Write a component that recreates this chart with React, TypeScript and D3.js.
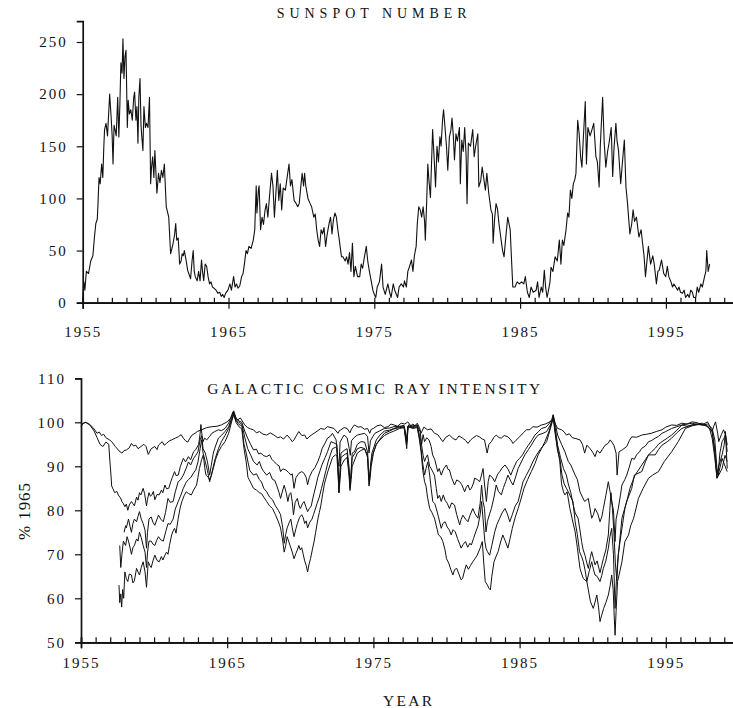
import { useEffect, useRef } from 'react';
import * as d3 from 'd3';

type Pt = [number, number];

// monthly-ish sunspot number: [year, value]
const sunspot: Pt[] = [
  [1955.0,3],[1955.08,20],[1955.15,12],[1955.25,30],[1955.4,28],[1955.55,40],[1955.7,45],[1955.8,62],[1955.9,76],[1956.0,80],
  [1956.05,95],[1956.12,120],[1956.2,114],[1956.3,133],[1956.38,120],[1956.45,150],[1956.5,166],[1956.6,172],[1956.7,160],[1956.85,200],
  [1956.95,178],[1957.02,160],[1957.08,133],[1957.15,170],[1957.22,166],[1957.3,160],[1957.4,197],[1957.48,159],[1957.55,190],[1957.62,230],
  [1957.7,220],[1957.76,253],[1957.83,215],[1957.9,236],[1957.97,242],[1958.06,168],[1958.12,194],[1958.2,181],[1958.3,185],[1958.4,175],
  [1958.5,197],[1958.56,202],[1958.65,175],[1958.72,188],[1958.79,153],[1958.85,197],[1958.93,215],[1959.0,170],[1959.05,160],[1959.13,146],
  [1959.2,188],[1959.3,168],[1959.38,172],[1959.48,168],[1959.58,197],[1959.66,114],[1959.72,130],[1959.8,140],[1959.88,120],[1959.95,146],
  [1960.09,105],[1960.2,124],[1960.3,115],[1960.4,127],[1960.5,120],[1960.6,133],[1960.73,92],[1960.8,88],[1960.9,82],[1961.03,47],
  [1961.12,52],[1961.2,57],[1961.3,65],[1961.38,76],[1961.45,60],[1961.55,62],[1961.65,37],[1961.75,40],[1961.82,47],[1961.9,45],
  [1961.97,50],[1962.1,40],[1962.2,31],[1962.3,27],[1962.4,23],[1962.5,40],[1962.58,50],[1962.65,30],[1962.72,25],[1962.85,21],
  [1962.95,30],[1963.05,21],[1963.15,41],[1963.22,30],[1963.3,21],[1963.4,37],[1963.5,35],[1963.6,25],[1963.7,18],[1963.8,20],
  [1963.9,15],[1964.0,14],[1964.15,12],[1964.27,9],[1964.4,10],[1964.5,6],[1964.6,8],[1964.7,5],[1964.8,9],[1964.96,12],
  [1965.1,18],[1965.2,12],[1965.35,25],[1965.45,15],[1965.55,18],[1965.65,14],[1965.77,16],[1965.9,25],[1966.0,28],[1966.1,38],
  [1966.2,50],[1966.3,47],[1966.4,54],[1966.55,52],[1966.7,60],[1966.8,70],[1966.9,112],[1966.95,86],[1967.05,108],[1967.1,112],
  [1967.2,70],[1967.3,82],[1967.4,75],[1967.5,88],[1967.6,95],[1967.7,82],[1967.8,100],[1967.95,124],[1968.05,112],[1968.15,82],
  [1968.25,105],[1968.35,127],[1968.45,98],[1968.55,114],[1968.65,89],[1968.75,110],[1968.9,108],[1969.0,118],[1969.15,133],[1969.25,112],
  [1969.35,118],[1969.5,98],[1969.6,96],[1969.75,92],[1969.85,95],[1969.95,110],[1970.05,124],[1970.15,112],[1970.22,124],[1970.3,112],
  [1970.45,100],[1970.6,95],[1970.7,92],[1970.85,82],[1970.95,85],[1971.05,70],[1971.15,60],[1971.25,54],[1971.35,70],[1971.45,66],
  [1971.55,72],[1971.66,54],[1971.75,64],[1971.9,76],[1972.0,82],[1972.1,66],[1972.2,80],[1972.3,86],[1972.4,82],[1972.5,70],
  [1972.6,60],[1972.75,44],[1972.85,44],[1973.0,40],[1973.1,44],[1973.2,37],[1973.3,48],[1973.4,30],[1973.5,57],[1973.6,25],
  [1973.7,35],[1973.85,25],[1974.0,25],[1974.1,37],[1974.2,33],[1974.3,42],[1974.45,54],[1974.55,40],[1974.65,31],[1974.8,20],
  [1974.9,12],[1975.0,8],[1975.1,5],[1975.2,15],[1975.35,20],[1975.5,37],[1975.6,15],[1975.75,8],[1975.93,18],[1976.05,10],
  [1976.15,5],[1976.3,18],[1976.4,12],[1976.6,5],[1976.7,15],[1976.85,18],[1977.0,15],[1977.07,21],[1977.2,15],[1977.3,30],
  [1977.4,34],[1977.55,41],[1977.65,30],[1977.75,45],[1977.87,54],[1977.95,76],[1978.05,92],[1978.15,89],[1978.25,82],[1978.35,92],
  [1978.45,78],[1978.5,60],[1978.6,100],[1978.67,133],[1978.75,117],[1978.85,101],[1979.0,166],[1979.1,140],[1979.2,111],[1979.3,150],
  [1979.4,135],[1979.5,159],[1979.58,150],[1979.68,175],[1979.75,185],[1979.85,168],[1979.95,150],[1980.04,127],[1980.15,159],[1980.25,165],
  [1980.33,177],[1980.42,160],[1980.5,137],[1980.6,162],[1980.7,155],[1980.84,168],[1980.9,114],[1981.0,156],[1981.1,145],[1981.2,168],
  [1981.3,140],[1981.36,95],[1981.45,153],[1981.6,150],[1981.75,166],[1981.85,140],[1981.95,150],[1982.1,162],[1982.17,111],[1982.3,117],
  [1982.4,130],[1982.5,120],[1982.62,108],[1982.72,124],[1982.85,105],[1983.0,89],[1983.1,85],[1983.15,57],[1983.25,80],[1983.35,95],
  [1983.45,90],[1983.55,76],[1983.7,60],[1983.8,50],[1983.9,44],[1984.0,60],[1984.15,82],[1984.25,75],[1984.32,70],[1984.4,45],
  [1984.5,15],[1984.65,15],[1984.8,20],[1984.95,18],[1985.1,20],[1985.25,18],[1985.36,25],[1985.5,10],[1985.63,5],[1985.75,15],
  [1985.9,10],[1986.1,12],[1986.2,20],[1986.3,5],[1986.45,15],[1986.55,10],[1986.66,31],[1986.75,15],[1986.85,5],[1986.95,12],
  [1987.05,20],[1987.12,34],[1987.25,30],[1987.4,44],[1987.55,40],[1987.69,60],[1987.8,37],[1987.9,60],[1988.0,55],[1988.15,70],
  [1988.26,86],[1988.35,82],[1988.45,108],[1988.55,100],[1988.65,114],[1988.75,118],[1988.83,124],[1988.95,175],[1989.05,162],[1989.15,140],
  [1989.24,130],[1989.33,156],[1989.47,193],[1989.55,133],[1989.65,168],[1989.8,160],[1989.93,166],[1990.05,172],[1990.2,140],[1990.3,135],
  [1990.42,111],[1990.5,150],[1990.66,197],[1990.77,153],[1990.88,130],[1991.0,145],[1991.1,153],[1991.25,168],[1991.35,121],[1991.45,150],
  [1991.57,172],[1991.65,155],[1991.75,146],[1991.9,114],[1992.05,140],[1992.15,156],[1992.26,111],[1992.37,95],[1992.45,80],[1992.53,66],
  [1992.65,75],[1992.75,89],[1992.85,78],[1992.98,82],[1993.15,63],[1993.3,70],[1993.4,57],[1993.5,45],[1993.6,25],[1993.7,40],
  [1993.8,54],[1993.95,37],[1994.1,45],[1994.2,37],[1994.35,18],[1994.45,30],[1994.54,31],[1994.7,41],[1994.85,28],[1994.99,25],
  [1995.1,35],[1995.2,25],[1995.35,20],[1995.45,15],[1995.55,18],[1995.68,15],[1995.8,12],[1995.9,15],[1996.0,10],[1996.14,9],
  [1996.25,12],[1996.35,5],[1996.5,8],[1996.6,5],[1996.7,12],[1996.82,10],[1996.9,5],[1997.05,5],[1997.15,15],[1997.25,10],
  [1997.4,18],[1997.5,15],[1997.65,25],[1997.74,30],[1997.8,50],[1997.9,30],[1998.0,37],
];

// galactic cosmic ray intensity (% of 1965), five monitors
const crA: Pt[] = [
  [1955.0,99],[1955.15,99.8],[1955.35,100],[1955.6,99.5],[1955.85,98.7],[1956.1,97.5],[1956.25,97.8],[1956.4,97],[1956.55,97.3],[1956.7,96.5],
  [1956.95,96],[1957.1,95.6],[1957.35,94.5],[1957.6,93.5],[1957.8,93],[1957.95,93.6],[1958.1,93.7],[1958.3,94.2],[1958.45,95.2],[1958.6,94.6],
  [1958.75,94.8],[1958.9,94],[1959.1,94.5],[1959.3,95],[1959.45,94.5],[1959.6,92.7],[1959.8,94],[1960.05,94.5],[1960.2,93.8],[1960.3,94.8],
  [1960.55,95.6],[1960.7,94.8],[1960.85,95.2],[1961.05,95.8],[1961.2,96],[1961.45,96.4],[1961.65,96.7],[1961.85,97.2],[1962.0,96.4],[1962.15,95.8],
  [1962.3,95.5],[1962.45,96.4],[1962.6,97.1],[1962.8,97.5],[1962.95,97.9],[1963.25,98.3],[1963.6,98.8],[1963.95,99],[1964.3,99.1],[1964.6,99.4],
  [1965.0,100.1],[1965.25,101],[1965.4,102.4],[1965.5,101.6],[1965.7,100.5],[1965.9,101],[1966.2,99.4],[1966.4,98.8],[1966.6,98.5],[1966.8,98.3],
  [1967.0,97.6],[1967.2,97.9],[1967.45,97.3],[1967.7,97.1],[1967.95,97.6],[1968.2,97.1],[1968.45,96.5],[1968.65,96.7],[1968.85,96.2],[1969.1,97.1],
  [1969.3,96.3],[1969.45,95.6],[1969.57,96],[1969.7,96.8],[1969.9,97.9],[1970.1,97],[1970.3,97.1],[1970.45,96.2],[1970.6,96.7],[1970.8,97.2],
  [1970.94,97.5],[1971.2,98.1],[1971.4,98.6],[1971.65,98.4],[1971.86,99],[1972.1,98.8],[1972.3,98.6],[1972.58,97.5],[1972.65,98],[1972.78,98.3],
  [1973.0,98.8],[1973.2,98.6],[1973.4,97.6],[1973.5,98.5],[1973.7,99.4],[1973.95,98.9],[1974.15,99],[1974.4,98.4],[1974.6,98.6],[1974.75,97.5],
  [1974.85,98.4],[1975.0,98.6],[1975.25,99.2],[1975.5,99.4],[1975.75,98.8],[1976.0,99],[1976.2,99.6],[1976.4,99.4],[1976.65,99.1],[1976.9,99.8],
  [1977.15,99.6],[1977.35,100.1],[1977.55,99.2],[1977.7,99.6],[1977.85,99.2],[1978.0,99.8],[1978.15,98.8],[1978.26,97.5],[1978.45,98.9],[1978.7,98.3],
  [1978.95,98.5],[1979.18,97.5],[1979.4,97.2],[1979.55,96.5],[1979.75,95.6],[1979.95,96.6],[1980.2,97.1],[1980.45,96.3],[1980.65,96],[1980.85,96.9],
  [1981.1,96.4],[1981.3,95.9],[1981.47,95.2],[1981.65,96],[1981.8,96.4],[1982.05,97],[1982.25,96.7],[1982.45,96.2],[1982.6,96],[1982.78,93],
  [1982.9,95],[1983.07,95.6],[1983.25,96.6],[1983.4,97.1],[1983.6,96.5],[1983.75,96.4],[1983.95,97],[1984.2,96.7],[1984.4,96],[1984.55,95.2],
  [1984.75,95.9],[1985.0,96.7],[1985.25,97.6],[1985.47,98.3],[1985.7,98.3],[1985.9,99],[1986.2,98.9],[1986.5,99.4],[1986.75,99.6],[1987.0,100],
  [1987.2,100.4],[1987.3,100.9],[1987.45,99.6],[1987.6,98.6],[1987.87,98.3],[1988.05,97.8],[1988.2,97.1],[1988.4,97.4],[1988.6,96.5],[1988.85,96.3],
  [1989.13,96],[1989.3,95],[1989.45,93],[1989.6,94.8],[1989.8,94.1],[1990.0,93.2],[1990.16,92.2],[1990.3,93.6],[1990.5,93],[1990.65,93.8],
  [1990.85,94.8],[1991.05,95.2],[1991.2,96],[1991.45,94.8],[1991.6,93],[1991.67,88],[1991.8,93.3],[1992.05,93.8],[1992.33,94.5],[1992.5,95.8],
  [1992.67,96.7],[1993.0,96.6],[1993.36,97.1],[1993.7,97.3],[1994.0,97.5],[1994.35,97.9],[1994.74,98.3],[1995.0,98.9],[1995.4,99.4],[1995.75,99.3],
  [1996.1,99.8],[1996.45,99.6],[1996.8,100.1],[1997.15,99.9],[1997.5,99.4],[1997.7,99.8],[1997.85,100.1],[1998.0,99.2],[1998.17,97.9],[1998.3,99.3],
  [1998.4,100.1],[1998.55,97.5],[1998.62,95.6],[1998.8,97.2],[1998.95,98.3],[1999.1,97],[1999.2,94.8],
];

const crB: Pt[] = [
  [1955.0,99.5],[1955.3,100],[1955.6,99.4],[1955.9,98],[1956.1,96.5],[1956.3,95],[1956.5,94.5],[1956.7,95.5],[1956.9,95],[1956.98,91],
  [1957.05,88],[1957.1,85.5],[1957.2,84.8],[1957.3,84],[1957.45,84.3],[1957.55,83.5],[1957.7,82.8],[1957.8,82],[1957.9,81.5],[1958.0,80.8],
  [1958.1,81.4],[1958.2,80],[1958.3,81.2],[1958.45,82],[1958.55,81.5],[1958.65,81],[1958.8,83],[1958.9,82.3],[1959.0,84],[1959.1,83.5],
  [1959.25,85],[1959.35,83.8],[1959.48,81],[1959.55,82.5],[1959.65,84],[1959.75,83.2],[1959.85,83.5],[1959.95,84.3],[1960.05,82.4],[1960.2,83.6],
  [1960.35,83.5],[1960.5,84.6],[1960.6,84],[1960.74,85.75],[1960.85,84.9],[1961.0,85],[1961.15,86.6],[1961.25,87.5],[1961.4,88.8],[1961.5,87.9],
  [1961.65,88],[1961.8,90],[1962.0,91.8],[1962.15,91],[1962.35,92.2],[1962.5,91.5],[1962.7,93.3],[1962.85,93.8],[1963.05,95],[1963.15,97.5],
  [1963.2,99.5],[1963.28,97],[1963.35,95.6],[1963.45,96.4],[1963.6,96],[1963.8,96.8],[1963.95,97.5],[1964.15,97.9],[1964.4,98.3],[1964.6,98.1],
  [1964.85,98.6],[1965.1,99.8],[1965.3,101.5],[1965.45,102.6],[1965.6,101],[1965.8,100.3],[1966.0,100],[1966.2,98],[1966.4,96.4],[1966.6,95],
  [1966.8,93.7],[1967.0,93.9],[1967.15,92.8],[1967.3,93],[1967.5,92.4],[1967.7,92.2],[1967.9,92.6],[1968.05,91.6],[1968.2,91.1],[1968.4,90.4],
  [1968.55,90.1],[1968.65,88.8],[1968.8,89.4],[1969.0,89.2],[1969.2,88.6],[1969.35,88],[1969.45,88.3],[1969.57,85],[1969.7,87.4],[1969.9,88.4],
  [1970.1,88.8],[1970.26,88.4],[1970.4,87.5],[1970.5,85.8],[1970.62,87.5],[1970.8,88.8],[1971.0,89.7],[1971.2,91.1],[1971.35,92.4],[1971.5,94.1],
  [1971.7,95.3],[1971.86,96.4],[1972.05,96.8],[1972.2,97.5],[1972.45,96],[1972.58,91],[1972.65,90],[1972.72,95.5],[1972.85,96.3],[1973.0,97.1],
  [1973.2,96.5],[1973.35,94],[1973.42,92.5],[1973.5,95.8],[1973.7,96.6],[1973.9,97.1],[1974.15,97.3],[1974.4,97.5],[1974.6,96.8],[1974.7,93],
  [1974.8,95.8],[1974.95,96.7],[1975.1,97.5],[1975.4,98],[1975.75,98.6],[1976.1,98.7],[1976.4,99],[1976.8,99.1],[1977.1,99.3],[1977.3,95.8],
  [1977.4,99.4],[1977.7,99.2],[1978.0,99.4],[1978.2,97.8],[1978.3,95],[1978.4,97.2],[1978.5,95.6],[1978.65,96.5],[1978.8,96],[1978.95,94.5],
  [1979.05,92.6],[1979.2,91.5],[1979.4,88.8],[1979.5,89.5],[1979.64,88],[1979.8,89.4],[1980.0,90.3],[1980.1,89.3],[1980.2,89.2],[1980.35,87.4],
  [1980.55,85.75],[1980.7,86.9],[1980.9,86.5],[1981.05,85.8],[1981.24,84.2],[1981.35,85.2],[1981.47,85.75],[1981.6,84.6],[1981.7,85],[1981.85,86.2],
  [1981.92,87.3],[1982.1,87],[1982.27,86.5],[1982.38,87.8],[1982.5,89.5],[1982.6,86],[1982.73,82],[1982.85,86.5],[1982.95,88],[1983.15,87.4],
  [1983.3,86.5],[1983.5,88.2],[1983.64,88.8],[1983.8,89.6],[1984.0,90.3],[1984.2,89.4],[1984.4,88],[1984.55,89.3],[1984.8,91.1],[1985.0,91.8],
  [1985.2,92.6],[1985.4,93.8],[1985.6,94.8],[1985.85,96],[1986.05,97.1],[1986.3,97.9],[1986.5,98.6],[1986.8,98.9],[1987.0,99.6],[1987.2,100.6],
  [1987.3,101.7],[1987.45,99.5],[1987.6,97.1],[1987.87,95],[1988.1,93.3],[1988.33,91.1],[1988.5,90.3],[1988.8,88],[1988.95,87],[1989.13,84.2],
  [1989.3,83],[1989.45,82],[1989.7,82.7],[1989.93,78.2],[1990.05,79],[1990.16,80.4],[1990.35,79.2],[1990.5,77.4],[1990.62,78.5],[1990.73,80.4],
  [1990.9,83.4],[1991.07,86.5],[1991.2,84],[1991.3,82],[1991.42,80],[1991.53,72.9],[1991.6,78],[1991.75,80.4],[1991.9,83.5],[1992.0,85.75],
  [1992.2,87],[1992.33,88],[1992.5,89.8],[1992.67,91.8],[1992.85,91.6],[1993.0,92.6],[1993.2,93.3],[1993.36,94.1],[1993.6,94.6],[1993.82,95.6],
  [1994.0,95.8],[1994.28,96.4],[1994.5,96.8],[1994.74,97.5],[1995.0,97.9],[1995.4,98.6],[1995.75,99],[1996.1,99.4],[1996.45,99.6],[1996.8,99.8],
  [1997.15,99.5],[1997.5,99.4],[1997.85,99.6],[1998.17,98.6],[1998.35,96],[1998.5,89.5],[1998.57,88],[1998.7,93],[1998.85,95.6],[1999.0,96.5],
  [1999.08,97.1],[1999.2,93.3],
];

const crC: Pt[] = [
  [1957.95,75],[1958.05,76.5],[1958.1,76],[1958.25,78],[1958.35,76.4],[1958.45,75],[1958.55,77],[1958.65,78],[1958.8,77.4],[1958.9,78.6],
  [1959.0,79.7],[1959.12,78],[1959.25,77],[1959.38,75.5],[1959.48,71.4],[1959.55,75],[1959.65,78],[1959.8,78.5],[1959.92,77.3],[1960.05,76.6],
  [1960.18,77.8],[1960.3,78.9],[1960.45,78],[1960.63,77.4],[1960.78,79.5],[1960.95,82.7],[1961.1,81.8],[1961.3,82],[1961.45,84.2],[1961.65,86.5],
  [1961.8,86.9],[1962.0,88],[1962.2,89.6],[1962.35,91],[1962.5,90.3],[1962.7,91.8],[1962.85,92.5],[1963.0,93.3],[1963.15,96],[1963.25,97],
  [1963.35,94],[1963.5,93],[1963.65,91],[1963.8,88],[1963.9,90],[1964.05,93],[1964.2,94.6],[1964.4,96.4],[1964.6,97],[1964.85,97.9],
  [1965.1,99],[1965.3,100.9],[1965.45,102.2],[1965.6,100.6],[1965.8,100],[1966.0,99.6],[1966.2,96.6],[1966.4,94],[1966.6,92.6],[1966.8,91.1],
  [1967.05,90.3],[1967.2,91.1],[1967.35,89.6],[1967.5,88.8],[1967.7,88],[1967.9,88.6],[1968.1,87],[1968.25,86.8],[1968.4,85.5],[1968.55,84],
  [1968.65,82.7],[1968.8,84.6],[1968.9,85.7],[1969.05,83.8],[1969.15,82],[1969.25,83.6],[1969.35,84],[1969.45,82],[1969.53,79],[1969.65,81.8],
  [1969.8,82.7],[1969.9,81.2],[1970.0,80.4],[1970.15,81.5],[1970.26,82],[1970.38,80.8],[1970.5,79.7],[1970.62,80.4],[1970.75,81],[1970.85,82.6],
  [1970.95,84],[1971.1,86],[1971.2,87.5],[1971.35,89],[1971.5,90.5],[1971.7,92],[1971.86,93.3],[1972.1,95.6],[1972.3,95.3],[1972.5,95],
  [1972.6,88],[1972.64,84],[1972.72,89],[1972.78,93],[1973.0,93.6],[1973.2,94],[1973.33,90],[1973.4,85],[1973.48,89],[1973.55,93],
  [1973.7,93.3],[1973.9,95],[1974.15,95.6],[1974.4,95.5],[1974.6,93.3],[1974.68,88],[1974.72,86],[1974.8,90],[1974.9,93],[1975.2,96],
  [1975.45,97.1],[1975.75,98],[1976.1,98.2],[1976.4,98.6],[1976.8,99],[1977.1,99],[1977.28,95.5],[1977.35,99.1],[1977.7,99],[1978.0,99.2],
  [1978.15,97],[1978.26,95.6],[1978.4,92.5],[1978.5,91.1],[1978.6,92],[1978.7,92.6],[1978.85,90],[1978.95,89.5],[1979.1,88.5],[1979.18,88],
  [1979.3,85],[1979.4,82.7],[1979.52,83.4],[1979.64,82],[1979.78,83.5],[1979.9,82.3],[1980.05,81.6],[1980.2,80.4],[1980.35,81.7],[1980.55,81.2],
  [1980.7,79],[1980.9,76.7],[1981.0,77.9],[1981.12,78.9],[1981.3,78],[1981.47,77.4],[1981.6,78.8],[1981.8,80.4],[1981.95,79.2],[1982.15,78.2],
  [1982.3,81.5],[1982.4,85.75],[1982.5,82],[1982.6,80.4],[1982.7,75.1],[1982.8,77.5],[1982.95,79.2],[1983.07,80.4],[1983.25,83],[1983.4,85.75],
  [1983.55,84.3],[1983.75,83.5],[1983.9,85.2],[1984.05,86.5],[1984.2,88],[1984.4,86.6],[1984.55,85.75],[1984.75,87.8],[1984.9,89.5],[1985.15,91.2],
  [1985.36,92.6],[1985.6,93.8],[1985.8,94.8],[1986.05,96.2],[1986.27,97.1],[1986.6,97.5],[1986.85,97.9],[1987.1,99.4],[1987.3,100.9],[1987.45,98.5],
  [1987.6,94.8],[1987.8,92],[1988.0,89.5],[1988.2,88],[1988.33,86],[1988.5,84],[1988.67,81.2],[1988.8,79.4],[1989.0,78.2],[1989.13,75.5],
  [1989.24,72.9],[1989.35,71],[1989.47,69.8],[1989.6,68],[1989.7,66.8],[1989.85,69.5],[1989.93,70.6],[1990.05,69],[1990.16,67.6],[1990.3,68.5],
  [1990.5,65.8],[1990.62,67.5],[1990.73,69],[1990.9,71],[1991.07,74.4],[1991.17,80],[1991.25,84],[1991.35,80.4],[1991.45,75],[1991.55,68],
  [1991.65,64],[1991.75,70],[1991.87,72.9],[1992.05,77],[1992.2,80.4],[1992.4,83],[1992.55,85],[1992.75,86.8],[1992.9,88],[1993.1,89],
  [1993.36,90.3],[1993.6,91.5],[1993.82,92.6],[1994.05,93.4],[1994.28,94.1],[1994.5,95],[1994.74,95.6],[1995.1,96.4],[1995.4,97.1],[1995.75,98.2],
  [1996.1,99.4],[1996.45,99.1],[1996.8,99.4],[1997.15,99.6],[1997.5,99.4],[1997.85,99.1],[1998.17,97.9],[1998.35,94],[1998.5,88],[1998.62,90],
  [1998.85,92.6],[1999.0,95],[1999.08,97.9],[1999.2,89.5],
];

const crE: Pt[] = [
  [1957.65,72],[1957.72,67],[1957.8,70],[1957.9,73],[1958.05,72],[1958.15,74],[1958.25,73],[1958.35,71.6],[1958.45,70],[1958.55,71.5],
  [1958.65,72],[1958.8,73.5],[1958.9,73],[1959.0,75],[1959.12,73.8],[1959.25,72],[1959.38,70.5],[1959.48,67],[1959.55,70.5],[1959.65,73],
  [1959.8,73],[1959.92,72.3],[1960.05,72],[1960.18,73.2],[1960.3,74],[1960.45,73.3],[1960.63,73],[1960.8,75.2],[1960.95,77],[1961.1,76.8],
  [1961.3,78],[1961.45,80.3],[1961.65,82],[1961.8,83.2],[1962.0,85],[1962.2,86.4],[1962.35,87],[1962.5,87.4],[1962.7,88.5],[1962.85,89.2],
  [1963.0,91],[1963.15,94],[1963.25,96],[1963.35,93],[1963.5,91],[1963.65,89],[1963.8,86.5],[1963.92,88],[1964.05,90],[1964.2,92],
  [1964.4,94],[1964.6,95.6],[1964.85,97],[1965.1,98.6],[1965.3,100.5],[1965.45,102],[1965.6,100.4],[1965.8,99.5],[1966.0,99.2],[1966.15,95],
  [1966.3,93],[1966.45,90.5],[1966.55,89],[1966.8,88],[1967.0,88.3],[1967.2,87],[1967.35,86.4],[1967.5,85],[1967.7,84.2],[1967.9,83],
  [1968.1,82.4],[1968.3,81],[1968.5,80],[1968.65,79],[1968.8,76],[1968.9,72.5],[1969.0,74.5],[1969.1,76],[1969.25,77.3],[1969.35,78],
  [1969.45,76],[1969.57,74],[1969.7,75.8],[1969.8,77],[1969.95,78.4],[1970.1,79],[1970.2,78.3],[1970.3,77],[1970.4,77.6],[1970.5,76],
  [1970.65,77.3],[1970.8,78],[1970.9,79],[1971.0,80],[1971.15,81.6],[1971.3,83],[1971.45,85],[1971.6,87],[1971.75,89],[1971.9,91],
  [1972.05,92.6],[1972.2,94],[1972.4,94.3],[1972.5,94],[1972.6,89],[1972.64,86],[1972.72,88.5],[1972.78,92],[1973.0,92.6],[1973.2,93],
  [1973.33,89],[1973.4,86],[1973.48,88.5],[1973.55,92],[1973.75,93],[1973.9,94],[1974.15,94.3],[1974.4,94],[1974.6,92.5],[1974.7,87],
  [1974.78,89],[1974.88,92],[1975.2,95],[1975.45,96.2],[1975.75,97.5],[1976.1,98],[1976.4,98.5],[1976.8,98.8],[1977.1,98.9],[1977.28,95],
  [1977.35,99],[1977.7,98.8],[1978.0,99],[1978.15,96.5],[1978.26,94],[1978.38,90.5],[1978.5,88],[1978.6,89.5],[1978.72,91],[1978.85,88],
  [1978.95,85],[1979.06,82],[1979.2,81.5],[1979.3,80.4],[1979.45,78.5],[1979.64,75.9],[1979.75,77],[1979.9,77.4],[1980.05,76.2],[1980.2,75.5],
  [1980.32,74.4],[1980.45,75.6],[1980.6,75.1],[1980.75,73.6],[1980.9,72.3],[1981.0,71.4],[1981.15,72.3],[1981.3,72.9],[1981.45,71.6],[1981.6,72.5],
  [1981.7,72.1],[1981.85,73.6],[1982.0,75.1],[1982.15,76.4],[1982.3,79],[1982.4,82],[1982.5,78],[1982.62,73],[1982.7,71.4],[1982.8,70.6],
  [1982.95,69.8],[1983.1,72],[1983.3,75.1],[1983.45,76.8],[1983.64,78.2],[1983.8,79.4],[1984.0,80.4],[1984.15,79.3],[1984.33,77.4],[1984.5,79],
  [1984.7,81],[1984.9,82],[1985.05,84],[1985.24,86.5],[1985.45,87.9],[1985.7,89.5],[1985.9,91],[1986.16,92.6],[1986.4,93.8],[1986.6,94.6],
  [1986.85,95.6],[1987.1,98.5],[1987.3,100.9],[1987.45,97],[1987.6,93.5],[1987.75,91.8],[1987.9,88],[1988.05,86],[1988.2,85],[1988.33,84.2],
  [1988.5,83],[1988.65,82],[1988.8,77.4],[1988.95,74.5],[1989.1,70.6],[1989.25,69.4],[1989.36,68.3],[1989.5,66],[1989.6,63.8],[1989.75,66],
  [1989.93,68.3],[1990.05,66.6],[1990.16,65.3],[1990.3,65],[1990.5,63.8],[1990.62,65.2],[1990.73,66.8],[1990.9,68.5],[1991.07,71.4],[1991.18,74],
  [1991.3,75.9],[1991.42,70],[1991.53,57.7],[1991.62,64],[1991.7,68],[1991.8,71.4],[1992.0,78.2],[1992.15,80],[1992.33,82],[1992.5,83.5],
  [1992.67,85],[1992.85,88],[1993.1,88.4],[1993.36,88.8],[1993.6,91],[1993.82,92.6],[1994.05,92.6],[1994.28,92.6],[1994.5,93.8],[1994.74,94.8],
  [1995.1,95.6],[1995.4,96.4],[1995.75,97.6],[1996.1,98.6],[1996.45,99],[1996.8,99.4],[1997.15,99.6],[1997.5,99.8],[1997.85,99.2],[1998.17,97.9],
  [1998.35,93],[1998.5,87.3],[1998.62,88.5],[1998.85,91.8],[1999.0,90.5],[1999.2,88.8],
];

const crD: Pt[] = [
  [1957.6,63],[1957.65,59],[1957.72,61],[1957.78,58],[1957.85,62],[1957.92,60],[1958.0,66],[1958.1,64.5],[1958.2,63.8],[1958.3,65.5],
  [1958.45,65.3],[1958.55,63.5],[1958.65,64],[1958.8,66.8],[1958.9,66],[1959.0,65.3],[1959.12,67],[1959.25,68.3],[1959.38,66],[1959.48,62.5],
  [1959.55,66],[1959.6,68.3],[1959.7,67.5],[1959.8,67],[1959.92,68.5],[1960.05,69.8],[1960.2,68.6],[1960.35,68.3],[1960.5,69.5],[1960.6,68.7],
  [1960.74,69.8],[1960.85,70.5],[1960.95,70],[1961.05,72],[1961.2,74.4],[1961.3,75.3],[1961.4,75.9],[1961.5,74.8],[1961.65,78.2],[1961.78,80.5],
  [1961.9,82],[1962.05,83.3],[1962.2,84.2],[1962.35,83.8],[1962.55,83.5],[1962.7,84.6],[1962.9,85.7],[1963.0,87.5],[1963.1,89.5],[1963.25,91.5],
  [1963.37,92.6],[1963.47,89.5],[1963.55,88],[1963.7,87.5],[1963.8,86.9],[1963.92,88],[1964.05,89.5],[1964.2,91.5],[1964.4,93.3],[1964.6,94.5],
  [1964.85,95.6],[1965.1,97.5],[1965.3,100.1],[1965.45,101.8],[1965.6,100],[1965.8,99],[1966.0,98.5],[1966.15,94],[1966.3,91],[1966.42,87.5],
  [1966.5,87],[1966.65,86],[1966.8,85],[1967.0,84.6],[1967.2,84],[1967.35,83.8],[1967.5,83],[1967.7,82],[1967.9,81],[1968.1,80.4],
  [1968.3,79],[1968.5,77.4],[1968.65,76],[1968.8,73],[1968.9,70.5],[1969.0,72],[1969.1,74],[1969.2,73],[1969.3,72],[1969.45,70.5],
  [1969.57,69],[1969.7,70.2],[1969.8,71],[1969.9,72],[1970.0,71],[1970.1,71.5],[1970.2,70],[1970.3,68.5],[1970.4,67.5],[1970.5,66],
  [1970.6,67.8],[1970.7,69],[1970.82,71],[1970.95,73],[1971.05,75],[1971.2,78],[1971.3,79.5],[1971.4,81],[1971.52,83.5],[1971.65,86],
  [1971.78,87.6],[1971.9,89],[1972.05,90.5],[1972.2,92],[1972.4,92.6],[1972.5,92.5],[1972.6,87],[1972.64,84],[1972.72,87],[1972.78,90],
  [1973.0,91.4],[1973.2,92],[1973.33,88],[1973.4,84.5],[1973.48,87],[1973.55,90],[1973.75,91.7],[1973.9,93],[1974.15,93.6],[1974.4,94],
  [1974.6,92],[1974.7,85.5],[1974.78,87.5],[1974.85,90],[1975.0,93],[1975.2,95],[1975.45,96],[1975.75,97],[1976.1,97.6],[1976.4,98],
  [1976.8,98.6],[1977.1,98.8],[1977.28,94],[1977.35,99],[1977.7,98.6],[1978.0,98.8],[1978.15,96],[1978.26,93.3],[1978.38,89],[1978.5,86.5],
  [1978.6,85.5],[1978.7,83],[1978.85,80.4],[1979.0,79.5],[1979.18,78.2],[1979.3,76.5],[1979.45,74.4],[1979.6,74],[1979.75,72.9],[1979.9,71],
  [1980.0,69],[1980.15,68],[1980.3,66.5],[1980.44,65.3],[1980.55,66.5],[1980.7,66.8],[1980.85,65.5],[1981.0,64.2],[1981.1,64.5],[1981.25,66.5],
  [1981.35,67.6],[1981.5,66.6],[1981.65,67.5],[1981.8,68.3],[1981.95,69],[1982.1,69.8],[1982.3,71.4],[1982.45,72.9],[1982.55,68],[1982.65,63.8],
  [1982.8,63],[1982.9,62.3],[1983.0,61.9],[1983.1,65],[1983.25,68.3],[1983.4,69.6],[1983.53,70.6],[1983.7,72.8],[1983.85,74.4],[1984.0,73.2],
  [1984.2,71.4],[1984.35,73.6],[1984.5,75.9],[1984.7,78.4],[1984.9,80.4],[1985.1,82.6],[1985.3,85],[1985.55,87],[1985.8,88.8],[1986.05,90.6],
  [1986.27,92.6],[1986.5,94],[1986.73,95.6],[1987.0,97.8],[1987.15,99.5],[1987.3,101.7],[1987.45,97.5],[1987.6,94],[1987.75,91.1],[1987.87,86],
  [1988.0,84.2],[1988.1,83.5],[1988.25,84.2],[1988.44,80.4],[1988.6,78],[1988.8,75.1],[1988.95,71.5],[1989.13,66.8],[1989.25,65.5],[1989.36,64.5],
  [1989.6,63.8],[1989.75,61],[1989.85,59.2],[1990.04,57.7],[1990.15,59],[1990.28,60.75],[1990.4,58],[1990.5,54.7],[1990.6,56],[1990.75,57.7],
  [1990.9,59],[1991.07,60.75],[1991.2,63],[1991.3,65.3],[1991.4,62],[1991.47,56],[1991.53,51.6],[1991.6,57],[1991.7,63.8],[1991.85,66],
  [1992.0,68.3],[1992.2,72.9],[1992.45,74.4],[1992.6,76.5],[1992.8,78.2],[1993.13,82.7],[1993.45,85],[1993.82,87.3],[1994.1,88],[1994.5,88.8],
  [1994.9,91.1],[1995.4,93.3],[1995.85,95.6],[1996.34,98.6],[1996.8,99.2],[1997.1,99.4],[1997.4,99.6],[1997.7,99.4],[1998.0,98.5],[1998.17,96.4],
  [1998.35,92],[1998.5,87.3],[1998.62,88],[1998.85,89.5],[1999.05,92.5],[1999.2,91.1],
];

const cosmicSeries: Pt[][] = [crA, crB, crC, crE, crD];

const sunspotTicks = [0, 50, 100, 150, 200, 250];
const cosmicTicks = [50, 60, 70, 80, 90, 100, 110];
const majorYears = [1955, 1965, 1975, 1985, 1995];
const minorYears = d3.range(1955, 2000);

const serif = '"Liberation Serif", "DejaVu Serif", serif';

const App = () => {
  const chartRef = useRef<SVGSVGElement | null>(null);

  useEffect(() => {
    const svg = d3.select(chartRef.current);
    svg.selectAll('*').remove();

    // top panel scales
    const xTop = d3.scaleLinear().domain([1955, 2000]).range([82.7, 82.7 + 45 * 14.58]);
    const yTop = d3.scaleLinear().domain([0, 270]).range([302.7, 302.7 - 270 * 1.0428]);

    // bottom panel scales
    const xBot = d3.scaleLinear().domain([1955, 2000]).range([81, 81 + 45 * 14.62]);
    const yBot = d3.scaleLinear().domain([50, 110]).range([642.3, 378.3]);

    const styleAxis = (g: d3.Selection<SVGGElement, unknown, null, undefined>) => {
      g.select('.domain').attr('stroke', '#111').attr('stroke-width', 1.7);
      g.selectAll('.tick line').attr('stroke', '#111').attr('stroke-width', 1.2);
      g.selectAll('.tick text')
        .attr('fill', '#111')
        .style('font-family', serif)
        .style('font-size', '15px')
        .style('letter-spacing', '2px');
    };

    // ---- sunspot panel ----
    const top = svg.append('g');

    top.append('path')
      .datum(sunspot)
      .attr('fill', 'none')
      .attr('stroke', '#111')
      .attr('stroke-width', 1.1)
      .attr('stroke-linejoin', 'round')
      .attr('d', d3.line<Pt>().x(d => xTop(d[0])).y(d => yTop(d[1])));

    top.append('g')
      .attr('transform', 'translate(82.7,0)')
      .call(d3.axisLeft(yTop).tickValues(sunspotTicks).tickSizeOuter(0).tickSize(6).tickPadding(9))
      .call(styleAxis);

    top.append('g')
      .attr('transform', 'translate(0,302.7)')
      .call(d3.axisBottom(xTop).tickValues(minorYears).tickSizeOuter(0).tickSize(-5).tickFormat(() => ''))
      .call(styleAxis);

    top.append('g')
      .attr('transform', 'translate(0,302.7)')
      .call(d3.axisBottom(xTop).tickValues(majorYears).tickSizeOuter(0).tickSize(6).tickPadding(17.5).tickFormat(d => String(d)))
      .call(styleAxis);

    top.append('text')
      .attr('x', 276.7)
      .attr('y', 18.3)
      .attr('textLength', 190)
      .attr('lengthAdjust', 'spacing')
      .style('font-family', serif)
      .style('font-size', '14px')
      .attr('fill', '#111')
      .text('SUNSPOT NUMBER');

    // ---- cosmic ray panel ----
    const bot = svg.append('g');

    const crLine = d3.line<Pt>().x(d => xBot(d[0])).y(d => yBot(d[1]));
    bot.selectAll('path.cr')
      .data(cosmicSeries)
      .enter()
      .append('path')
      .attr('class', 'cr')
      .attr('fill', 'none')
      .attr('stroke', '#111')
      .attr('stroke-width', 1)
      .attr('stroke-linejoin', 'round')
      .attr('d', d => crLine(d));

    bot.append('g')
      .attr('transform', 'translate(81,0)')
      .call(d3.axisLeft(yBot).tickValues(cosmicTicks).tickSizeOuter(0).tickSize(6).tickPadding(9))
      .call(styleAxis);

    bot.append('g')
      .attr('transform', 'translate(0,642.3)')
      .call(d3.axisBottom(xBot).tickValues(minorYears).tickSizeOuter(0).tickSize(-5).tickFormat(() => ''))
      .call(styleAxis);

    bot.append('g')
      .attr('transform', 'translate(0,642.3)')
      .call(d3.axisBottom(xBot).tickValues(majorYears).tickSizeOuter(0).tickSize(6).tickPadding(9.5).tickFormat(d => String(d)))
      .call(styleAxis);

    bot.append('text')
      .attr('x', 207.3)
      .attr('y', 394)
      .attr('textLength', 333)
      .attr('lengthAdjust', 'spacing')
      .style('font-family', serif)
      .style('font-size', '15.5px')
      .attr('fill', '#111')
      .text('GALACTIC COSMIC RAY INTENSITY');

    bot.append('text')
      .attr('transform', 'translate(30,540) rotate(-90)')
      .attr('textLength', 57)
      .attr('lengthAdjust', 'spacing')
      .style('font-family', serif)
      .style('font-size', '17px')
      .attr('fill', '#111')
      .text('% 1965');

    bot.append('text')
      .attr('x', 383)
      .attr('y', 706)
      .attr('textLength', 49)
      .attr('lengthAdjust', 'spacing')
      .style('font-family', serif)
      .style('font-size', '15.5px')
      .attr('fill', '#111')
      .text('YEAR');
  }, []);

  return (
    <svg
      ref={chartRef}
      width={733}
      height={708}
      style={{ position: 'absolute', left: 0, top: 0, background: '#fff' }}
    />
  );
};

export default App;
